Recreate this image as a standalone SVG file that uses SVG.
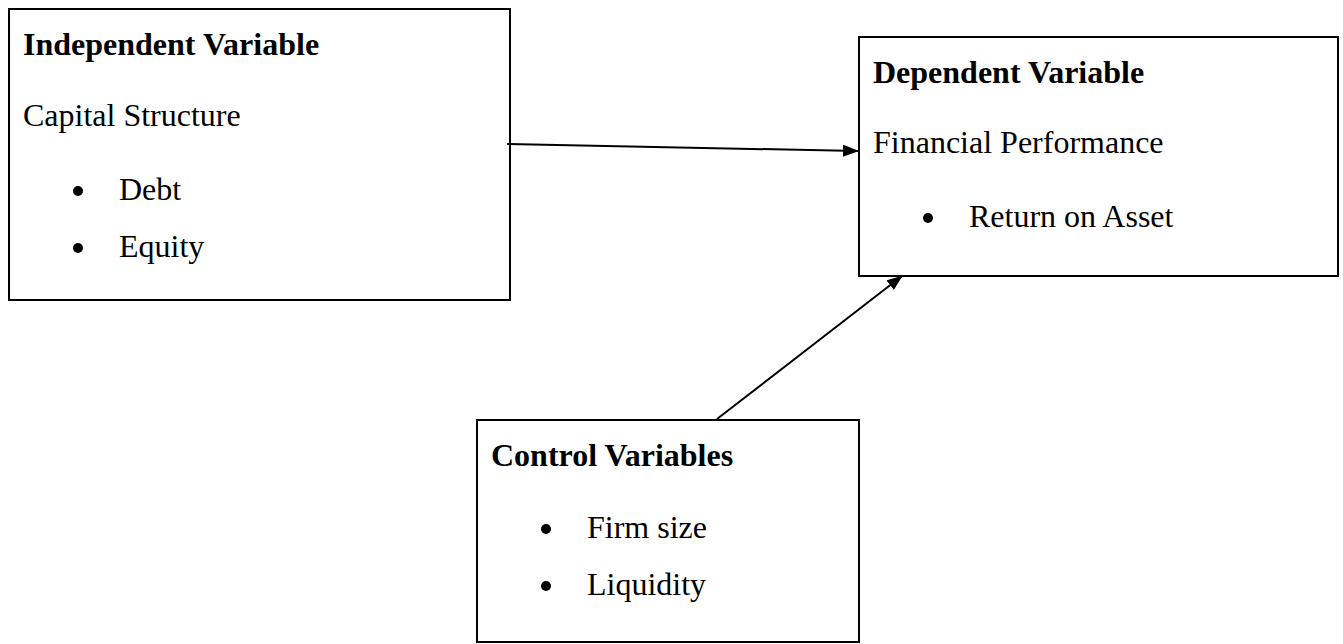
<svg xmlns="http://www.w3.org/2000/svg" width="1343" height="644" viewBox="0 0 1343 644">
<style>
.box{fill:#fff;stroke:#000;stroke-width:2}
.h{font-family:"Liberation Serif","Times New Roman",serif;font-size:32px;font-weight:bold;fill:#000}
.t{font-family:"Liberation Serif","Times New Roman",serif;font-size:32px;fill:#000}
.b{fill:#000}
.c{stroke:#000;stroke-width:2;fill:none}
</style>
<defs>
<marker id="ah" markerUnits="userSpaceOnUse" markerWidth="16" markerHeight="12" refX="15" refY="6" orient="auto" viewBox="0 0 16 12">
<path d="M0,0 L16,6 L0,12 z" fill="#000"/>
</marker>
</defs>
<rect width="1343" height="644" fill="#fff"/>
<g id="independent">
<rect class="box" x="9" y="9" width="501" height="291"/>
<text class="h" x="23" y="55">Independent Variable</text>
<text class="t" x="23" y="126">Capital Structure</text>
<circle class="b" cx="78" cy="191" r="5"/>
<text class="t" x="119" y="200">Debt</text>
<circle class="b" cx="78" cy="248" r="5"/>
<text class="t" x="119" y="257">Equity</text>
</g>
<g id="dependent">
<rect class="box" x="859" y="37" width="479" height="239"/>
<text class="h" x="873" y="83">Dependent Variable</text>
<text class="t" x="873" y="153">Financial Performance</text>
<circle class="b" cx="928" cy="218" r="5"/>
<text class="t" x="969" y="227">Return on Asset</text>
</g>
<g id="control">
<rect class="box" x="477" y="420" width="382" height="222"/>
<text class="h" x="491" y="466">Control Variables</text>
<circle class="b" cx="546" cy="529" r="5"/>
<text class="t" x="587" y="538">Firm size</text>
<circle class="b" cx="546" cy="586" r="5"/>
<text class="t" x="587" y="595">Liquidity</text>
</g>
<g id="connectors">
<line class="c" x1="507" y1="144" x2="858" y2="151" marker-end="url(#ah)"/>
<line class="c" x1="717" y1="419" x2="902" y2="276" marker-end="url(#ah)"/>
</g>
</svg>
